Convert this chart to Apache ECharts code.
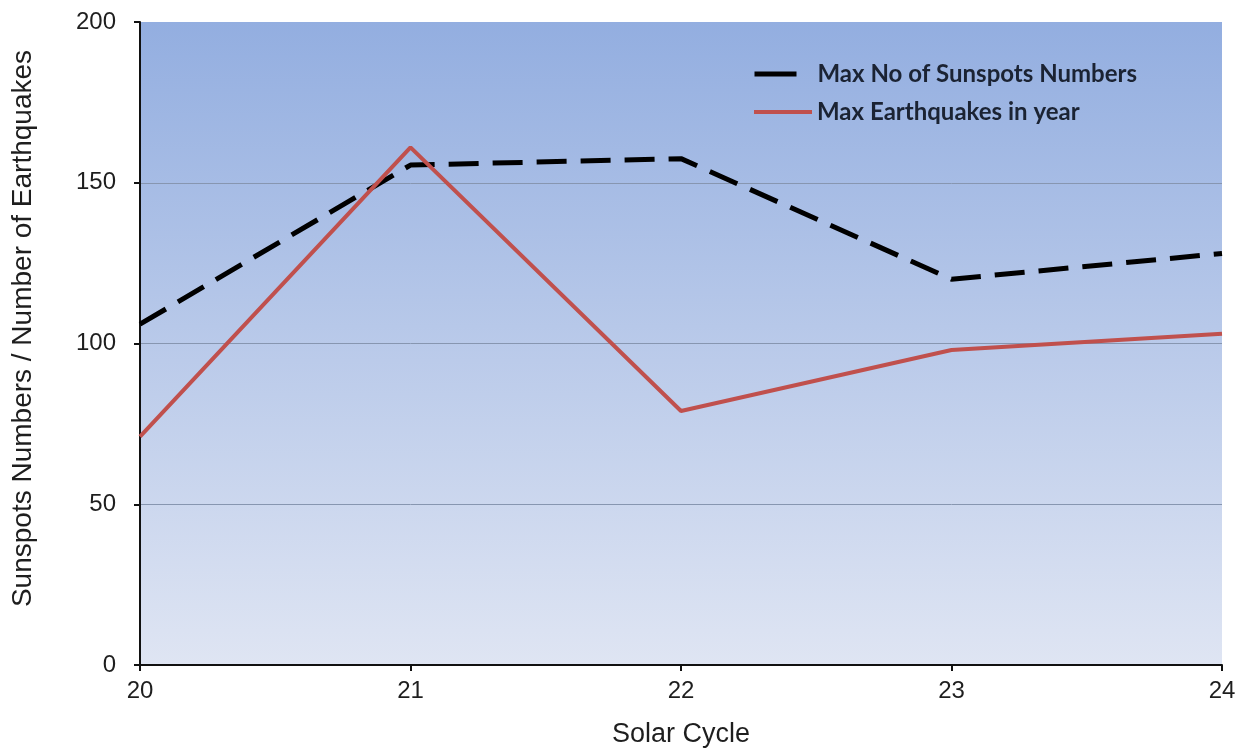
<!DOCTYPE html>
<html>
<head>
<meta charset="utf-8">
<script src="https://cdn.jsdelivr.net/npm/echarts@6/dist/echarts.min.js"></script>
<style>
  html, body { margin: 0; padding: 0; background: #ffffff; }
  #chart { width: 1243px; height: 751px; }
</style>
</head>
<body>
<div id="chart"></div>
<script>
// Solar cycles on the x axis
const cycles = ['20', '21', '22', '23', '24'];
// Peak sunspot number per cycle
const maxSunspots = [106, 155.5, 157.5, 120, 128];
// Peak yearly earthquake count per cycle
const maxEarthquakes = [71, 161, 79, 98, 103];

const chart = echarts.init(document.getElementById('chart'));
const fontMain = 'Liberation Sans, Arial, sans-serif';
const fontLegend = 'Lato, Carlito, sans-serif';
const gridLine = '#8796b0';
const textColor = '#1e1e1e';

chart.setOption({
  backgroundColor: '#ffffff',
  animation: false,
  grid: {
    left: 140, right: 21, top: 22, bottom: 86,
    outerBoundsMode: 'none',
    containLabel: false,
    show: true,
    borderWidth: 0,
    backgroundColor: {
      type: 'linear', x: 0, y: 0, x2: 0, y2: 1,
      colorStops: [
        { offset: 0, color: '#93aee0' },
        { offset: 1, color: '#dfe5f3' }
      ]
    }
  },
  legend: [
    {
      data: ['Max No of Sunspots Numbers'],
      left: 752, top: 62, padding: 0,
      itemWidth: 42, itemHeight: 28,
      itemStyle: { opacity: 0 },
      lineStyle: { type: 'solid', width: 5, color: '#000000' },
      textStyle: { fontFamily: fontLegend, fontWeight: 'bold', fontSize: 24, color: '#1b2333', padding: [0, 0, 0, 16] }
    },
    {
      data: ['Max Earthquakes in year'],
      left: 752, top: 100, padding: 0,
      itemWidth: 58, itemHeight: 28,
      itemStyle: { opacity: 0 },
      lineStyle: { type: 'solid', width: 4, color: '#c0504d' },
      textStyle: { fontFamily: fontLegend, fontWeight: 'bold', fontSize: 24, color: '#1b2333', padding: [0, 0, 0, 0] }
    }
  ],
  xAxis: {
    type: 'category',
    data: cycles,
    boundaryGap: false,
    name: 'Solar Cycle',
    nameLocation: 'middle',
    nameGap: 56,
    nameTextStyle: { fontFamily: fontMain, fontSize: 27, color: textColor },
    axisLine: { lineStyle: { color: '#111111', width: 2 } },
    axisTick: { show: true, alignWithLabel: true, length: 6, lineStyle: { color: '#111111', width: 2 } },
    axisLabel: { fontFamily: fontMain, fontSize: 24, color: textColor, margin: 14 },
    splitLine: { show: false }
  },
  yAxis: {
    type: 'value',
    min: 0, max: 200, interval: 50,
    name: 'Sunspots Numbers / Number of Earthquakes',
    nameLocation: 'middle',
    nameGap: 103,
    nameTextStyle: { fontFamily: fontMain, fontSize: 28, color: textColor, padding: [0, 0, 0, 30] },
    axisLine: { show: true, lineStyle: { color: '#111111', width: 2 } },
    axisTick: { show: true, length: 6, lineStyle: { color: '#111111', width: 2 } },
    axisLabel: { fontFamily: fontMain, fontSize: 24, color: textColor, margin: 24 },
    splitLine: {
      show: true,
      lineStyle: { color: ['rgba(0,0,0,0)', gridLine, gridLine, gridLine, 'rgba(0,0,0,0)'], width: 1 }
    }
  },
  series: [
    {
      name: 'Max No of Sunspots Numbers',
      type: 'line',
      data: maxSunspots,
      symbol: 'none',
      z: 3,
      lineStyle: { color: '#000000', width: 5, type: [30, 14] },
      itemStyle: { color: '#000000' }
    },
    {
      name: 'Max Earthquakes in year',
      type: 'line',
      data: maxEarthquakes,
      symbol: 'none',
      z: 4,
      lineStyle: { color: '#c0504d', width: 4 },
      itemStyle: { color: '#c0504d' }
    }
  ]
});
</script>
</body>
</html>
